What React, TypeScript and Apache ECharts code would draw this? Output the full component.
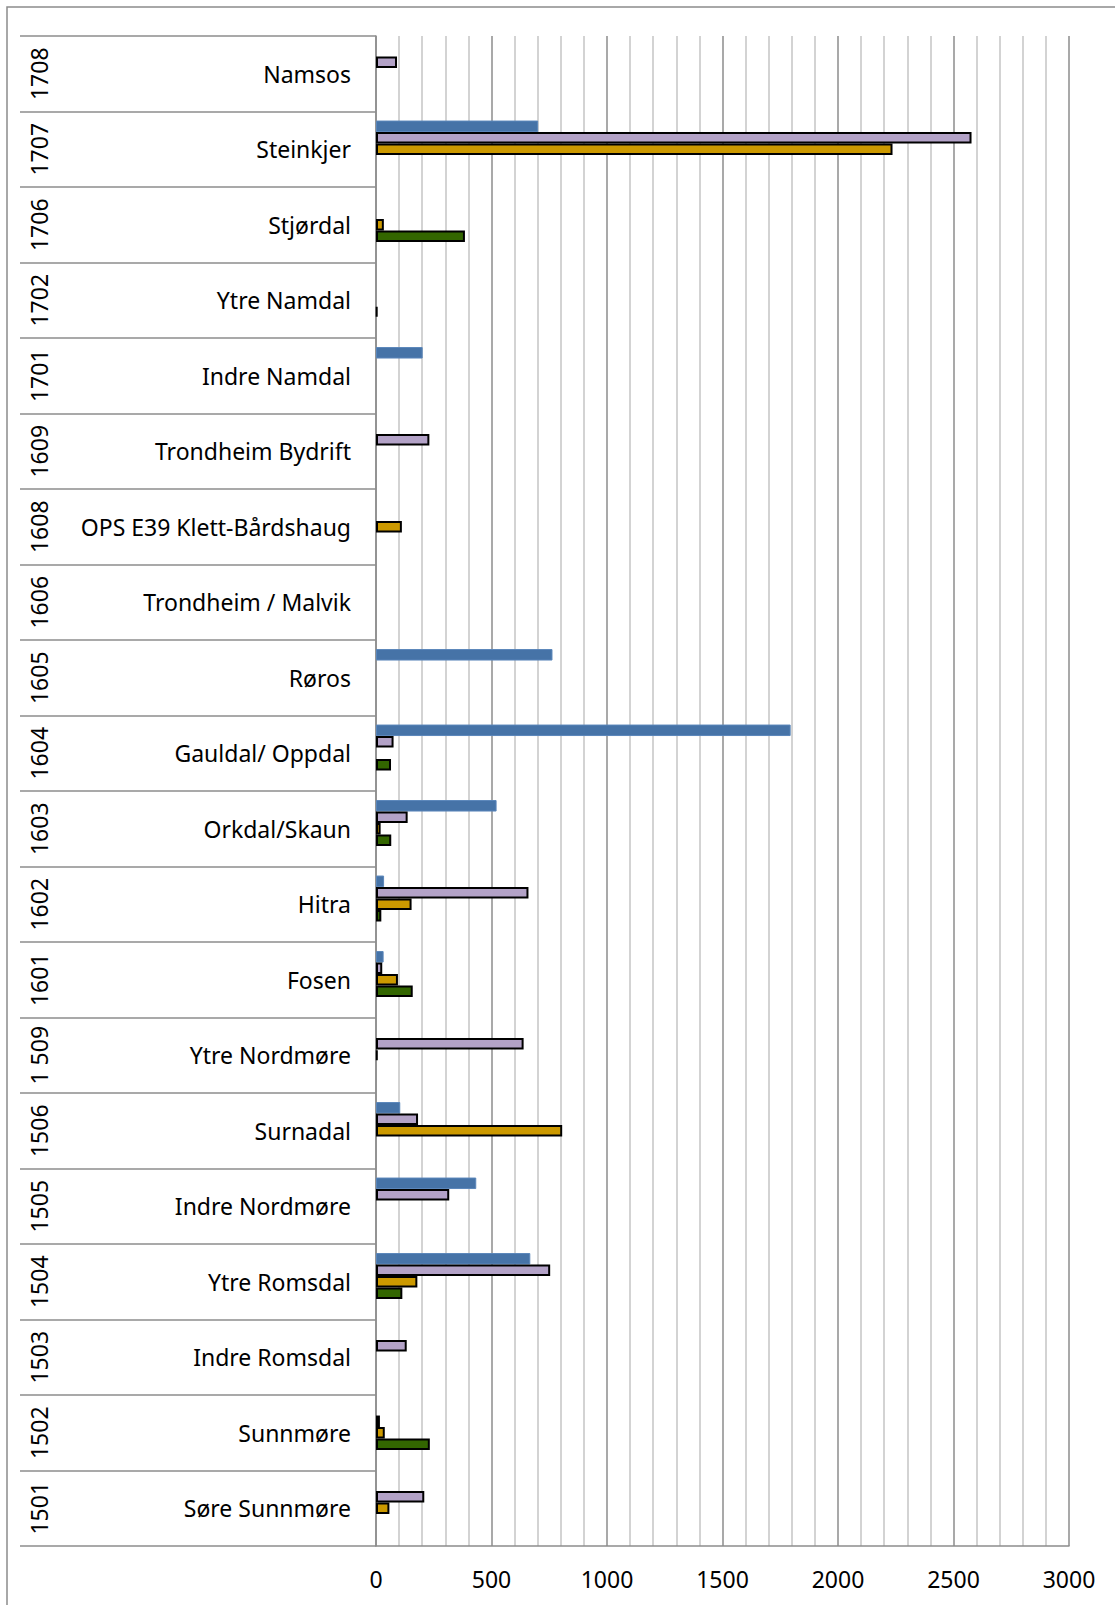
import React, { useEffect, useRef } from "react";
import * as echarts from "echarts";

const names = [
  "Namsos", "Steinkjer", "Stjørdal", "Ytre Namdal", "Indre Namdal",
  "Trondheim Bydrift", "OPS E39 Klett-Bårdshaug", "Trondheim / Malvik", "Røros", "Gauldal/ Oppdal",
  "Orkdal/Skaun", "Hitra", "Fosen", "Ytre Nordmøre", "Surnadal",
  "Indre Nordmøre", "Ytre Romsdal", "Indre Romsdal", "Sunnmøre", "Søre Sunnmøre",
];
const codes = [
  "1708", "1707", "1706", "1702", "1701",
  "1609", "1608", "1606", "1605", "1604",
  "1603", "1602", "1601", "1 509", "1506",
  "1505", "1504", "1503", "1502", "1501",
];
const serie1 = [null, 702, null, null, 202, null, null, null, 764, 1795, 522, 35, 33, null, 105, 434, 668, null, null, null];
const serie2 = [91, 2578, null, null, null, 231, null, null, null, 76, 137, 660, 27, 639, 182, 317, 754, 133, 17, 209];
const serie3 = [null, 2236, 34, null, null, null, 112, null, null, null, 20, 154, 95, 7, 806, null, 179, null, 38, 58];
const serie4 = [null, null, 385, 6, null, null, null, null, null, 65, 66, 23, 159, null, null, null, 114, null, 233, null];
const serie5 = [null, null, null, null, null, null, null, null, null, null, null, null, null, null, null, null, null, null, null, null];

const FONT = "'Noto Sans', 'DejaVu Sans', sans-serif";

export default function App() {
  const ref = useRef<HTMLDivElement>(null);
  useEffect(() => {
    if (!ref.current) return;
    const chart = echarts.init(ref.current, null, { renderer: "svg" });
    const bordered = (color: string) => ({
      color,
      borderColor: "#000",
      borderWidth: 2,
    });
    const mk = (name: string, data: (number | null)[], itemStyle: any) => ({
      name,
      type: "bar",
      data,
      itemStyle,
      barGap: "0%",
      barCategoryGap: "24%",
      yAxisIndex: 0,
    });
    chart.setOption({
      animation: false,
      backgroundColor: "#fff",
      textStyle: { fontFamily: FONT },
      graphic: [
        {
          type: "rect",
          shape: { x: 7, y: 7, width: 1130, height: 1630 },
          style: { fill: "none", stroke: "#8c8c8c", lineWidth: 1.5 },
          silent: true,
        },
      ],
      grid: { left: 376, right: 46, top: 36, bottom: 59, containLabel: false },
      xAxis: {
        type: "value",
        min: 0,
        max: 3000,
        interval: 500,
        axisLine: { show: true, lineStyle: { color: "#8c8c8c", width: 1.5 } },
        axisTick: { show: false },
        axisLabel: {
          color: "#000",
          fontSize: 23,
          fontFamily: FONT,
          margin: 21,
          formatter: (v: number) => String(v),
        },
        splitLine: { show: true, lineStyle: { color: "#8c8c8c", width: 1.5 } },
        minorTick: { show: false, splitNumber: 5 },
        minorSplitLine: { show: true, lineStyle: { color: "#c4c4c4", width: 1.5 } },
      },
      yAxis: [
        {
          type: "category",
          data: names,
          inverse: true,
          axisLine: { show: true, lineStyle: { color: "#8c8c8c", width: 1.5 } },
          axisTick: { show: true, length: 356, lineStyle: { color: "#8c8c8c", width: 1.5 } },
          axisLabel: {
            color: "#000",
            fontSize: 23,
            fontFamily: FONT,
            margin: 25,
            interval: 0,
            padding: [0, 0, 4, 0],
          },
          splitLine: { show: false },
        },
        {
          type: "category",
          data: codes,
          inverse: true,
          position: "left",
          offset: 326,
          axisLine: { show: false },
          axisTick: { show: false },
          axisLabel: { color: "#000", fontSize: 23, fontFamily: FONT, margin: 0, rotate: 90, interval: 0 },
          splitLine: { show: false },
        },
      ],
      series: [
        mk("Serie 1", serie1, { color: "#4673a7", borderColor: "#5a86ba", borderWidth: 1 }),
        mk("Serie 2", serie2, bordered("#b3a2c7")),
        mk("Serie 3", serie3, bordered("#cc9900")),
        mk("Serie 4", serie4, bordered("#336600")),
        mk("Serie 5", serie5, bordered("#8e6bb0")),
      ],
    });
    return () => chart.dispose();
  }, []);
  return (
    <div
      ref={ref}
      style={{ position: "absolute", left: 0, top: 0, width: 1115, height: 1605 }}
    />
  );
}
